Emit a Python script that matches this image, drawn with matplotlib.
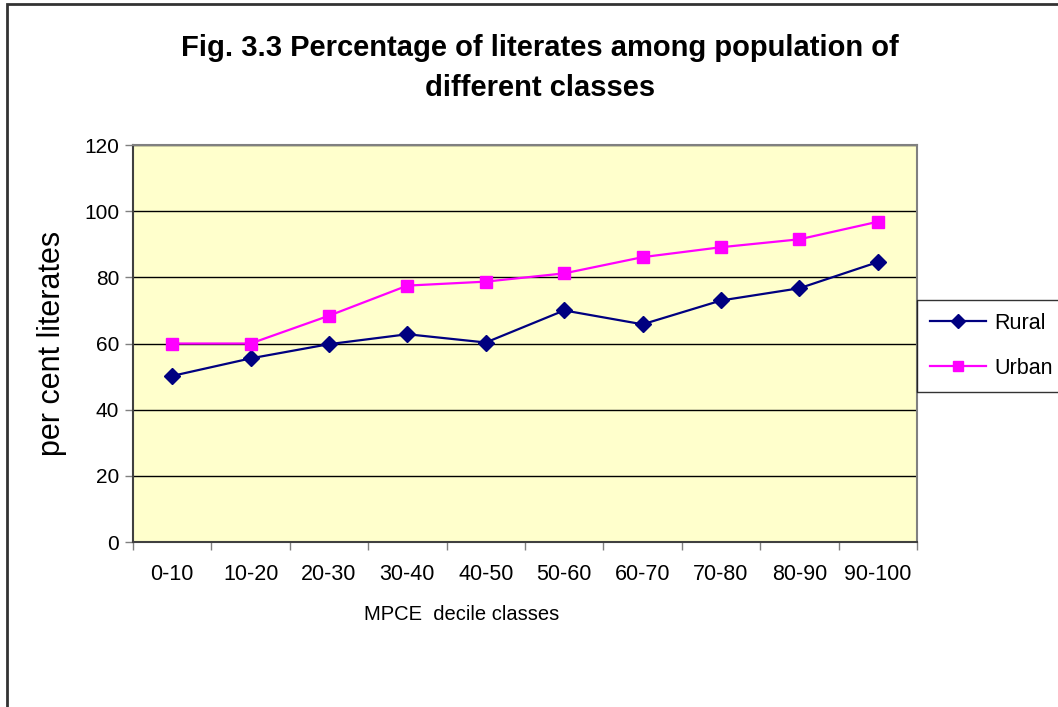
import matplotlib.pyplot as plt
from matplotlib.patches import Rectangle

plt.rcParams['font.family'] = ['Liberation Sans', 'DejaVu Sans']

# data
classes = ['0-10', '10-20', '20-30', '30-40', '40-50',
           '50-60', '60-70', '70-80', '80-90', '90-100']
rural = [50.2, 55.5, 59.8, 62.8, 60.3, 70.0, 65.8, 73.0, 76.7, 84.6]
urban = [60.0, 60.0, 68.4, 77.5, 78.7, 81.2, 86.1, 89.1, 91.5, 96.8]
y_ticks = [0, 20, 40, 60, 80, 100, 120]

fig = plt.figure(figsize=(10.58, 7.07), dpi=100)
ax = fig.add_axes([133 / 1058, 1 - 542 / 707, (917 - 133) / 1058, (542 - 145) / 707])
ax.set_facecolor('#FFFFCC')

x = list(range(len(classes)))
ax.plot(x, rural, color='#000080', marker='D', markersize=8, linewidth=1.6,
        label='Rural', zorder=3)
ax.plot(x, urban, color='#FF00FF', marker='s', markersize=8, linewidth=1.6,
        label='Urban', zorder=3)

ax.set_xlim(-0.5, len(classes) - 0.5)
ax.set_ylim(0, 120)
ax.set_yticks(y_ticks)
ax.yaxis.grid(True, color='black', linewidth=1)
ax.set_axisbelow(True)

ax.set_xticks(x)
ax.set_xticklabels(classes, fontsize=15.5)
ax.set_xticks([i - 0.5 for i in range(len(classes) + 1)], minor=True)
ax.tick_params(axis='x', which='major', length=0, pad=16)
ax.tick_params(axis='x', which='minor', length=6, width=1, color='#808080')
ax.tick_params(axis='y', labelsize=15, length=6, width=1, color='#808080', pad=4)

for side in ['top', 'right']:
    ax.spines[side].set_color('#808080')
ax.spines['left'].set_color('#404040')
ax.spines['bottom'].set_color('#404040')
for s in ax.spines.values():
    s.set_linewidth(1.5)

ax.set_ylabel('per cent literates', fontsize=22, labelpad=12)
fig.text(462 / 1058, 1 - 614 / 707, 'MPCE  decile classes', fontsize=14.5,
         ha='center', va='center')

fig.text(540 / 1058, 1 - 68 / 707,
         'Fig. 3.3 Percentage of literates among population of\ndifferent classes',
         fontsize=21, fontweight='bold', ha='center', va='center', linespacing=1.5)

leg = fig.legend(loc='upper left', bbox_to_anchor=(917 / 1058, 1 - 300 / 707),
                 borderaxespad=0, fontsize=15.5, frameon=True, fancybox=False,
                 handlelength=2.6, borderpad=0.6, labelspacing=1.1,
                 handletextpad=0.4, markerscale=0.85)
leg.get_frame().set_edgecolor('black')
leg.get_frame().set_linewidth(1)

# outer chart border, running off the right and bottom edges
fig.patches.append(Rectangle((7 / 1058, -0.05), 1.1, 1 - 4 / 707 + 0.05,
                             transform=fig.transFigure, fill=False,
                             edgecolor='#333333', linewidth=2))

fig.savefig('out.png', dpi=100)
